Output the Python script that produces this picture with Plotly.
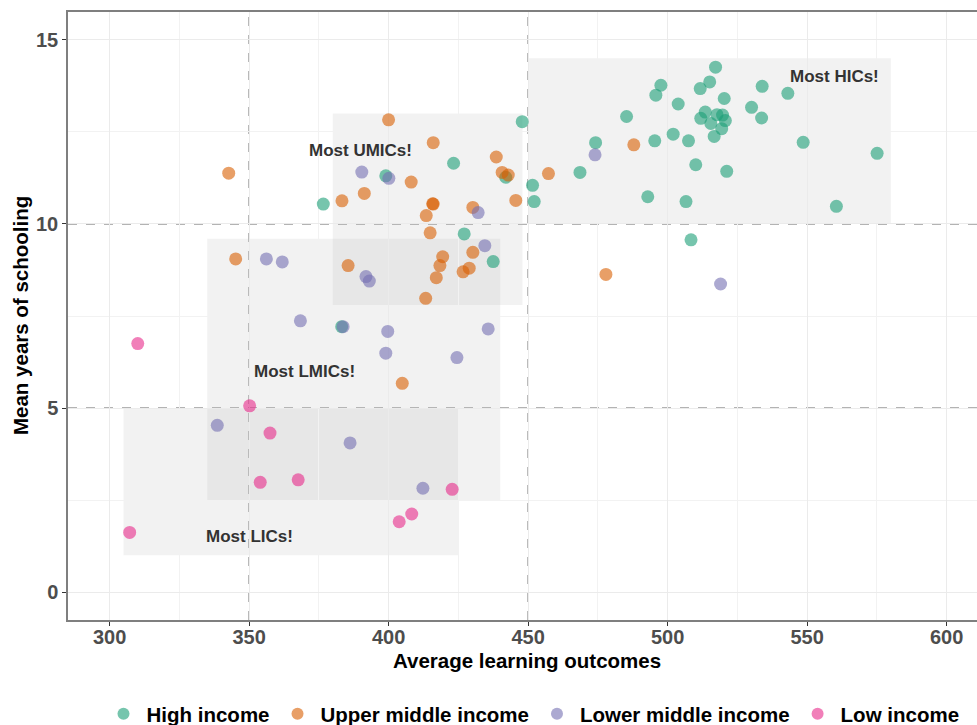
import plotly.graph_objects as go

# ---- data ----
high_x = [376.6, 447.9, 423.3, 442.0, 451.6, 452.2, 474.2, 468.6, 427.1, 437.5, 383.2, 399.0,
          485.3, 517.2, 515.1, 511.7, 497.6, 495.8, 503.8, 520.3, 533.9, 543.1, 530.1, 533.7,
          513.5, 511.9, 517.7, 519.7, 515.5, 520.7, 519.4, 516.7, 502.0, 495.4, 507.5, 548.6,
          575.1, 510.1, 521.2, 492.9, 506.6, 560.5, 508.4]
high_y = [10.54, 12.78, 11.65, 11.27, 11.05, 10.61, 12.21, 11.40, 9.73, 8.98, 7.21, 11.31,
          12.92, 14.26, 13.86, 13.68, 13.77, 13.50, 13.26, 13.41, 13.74, 13.55, 13.17, 12.88,
          13.04, 12.87, 12.97, 12.96, 12.73, 12.81, 12.59, 12.38, 12.44, 12.26, 12.26, 12.22,
          11.92, 11.61, 11.43, 10.74, 10.61, 10.48, 9.57]

umic_x = [400.0, 416.0, 438.6, 440.7, 442.9, 457.3, 408.1, 391.3, 383.3, 416.0, 415.8, 430.2,
          445.6, 413.5, 414.9, 385.5, 419.4, 418.4, 417.1, 430.2, 428.9, 426.7, 413.3, 477.9,
          487.9, 342.7, 345.2, 404.9]
umic_y = [12.83, 12.21, 11.82, 11.40, 11.33, 11.37, 11.14, 10.83, 10.63, 10.54, 10.55, 10.45,
          10.64, 10.23, 9.76, 8.87, 9.11, 8.87, 8.54, 9.23, 8.80, 8.70, 7.98, 8.63,
          12.15, 11.38, 9.05, 5.67]

lmic_x = [390.4, 400.1, 432.1, 474.0, 519.0, 356.2, 361.9, 391.9, 393.1, 434.5, 368.4, 383.7,
          399.7, 399.0, 435.7, 424.5, 338.6, 386.2, 412.3]
lmic_y = [11.41, 11.24, 10.31, 11.88, 8.37, 9.05, 8.97, 8.57, 8.45, 9.41, 7.37, 7.21,
          7.08, 6.49, 7.15, 6.37, 4.53, 4.05, 2.82]

lic_x = [310.1, 307.2, 350.2, 357.5, 354.0, 367.6, 422.8, 408.3, 403.8]
lic_y = [6.75, 1.62, 5.06, 4.32, 2.98, 3.05, 2.79, 2.12, 1.91]

group_names = ["High income", "Upper middle income", "Lower middle income", "Low income"]
group_colors = ["#1B9E77", "#D95F02", "#7570B3", "#E7298A"]

# highlighted boxes: x0, x1, y0, y1
box_x0 = [450, 380, 335, 305]
box_x1 = [580, 448, 440, 425]
box_y0 = [10, 7.8, 2.5, 1]
box_y1 = [14.5, 13, 9.6, 5]
label_text = ["Most HICs!", "Most UMICs!", "Most LMICs!", "Most LICs!"]
label_x = [560, 390, 370, 350]
label_y = [14, 12, 6, 1.5]

x_ticks = [300, 350, 400, 450, 500, 550, 600]
y_ticks = [0, 5, 10, 15]
vlines = [350, 450]
hlines = [5, 10]

x_title = "Average learning outcomes"
y_title = "Mean years of schooling"

FONT = "Liberation Sans, Arial, sans-serif"

fig = go.Figure()
series = [(high_x, high_y), (umic_x, umic_y), (lmic_x, lmic_y), (lic_x, lic_y)]
for (xs, ys), name, col in zip(series, group_names, group_colors):
    fig.add_trace(go.Scatter(
        x=xs, y=ys, mode="markers", name=name,
        marker=dict(size=13, color=col, opacity=0.6, line=dict(width=0)),
    ))

shapes = []
for x0, x1, y0, y1 in zip(box_x0, box_x1, box_y0, box_y1):
    shapes.append(dict(type="rect", xref="x", yref="y", x0=x0, x1=x1, y0=y0, y1=y1,
                       fillcolor="rgba(190,190,190,0.2)", line=dict(width=0), layer="below"))
for v in vlines:
    shapes.append(dict(type="line", xref="x", yref="paper", x0=v, x1=v, y0=0, y1=1,
                       line=dict(color="#9a9a9a", width=1.5, dash="dash"), layer="below"))
for h in hlines:
    shapes.append(dict(type="line", xref="paper", yref="y", x0=0, x1=1, y0=h, y1=h,
                       line=dict(color="#9a9a9a", width=1.5, dash="dash"), layer="below"))

annotations = []
for t, ax, ay in zip(label_text, label_x, label_y):
    annotations.append(dict(x=ax, y=ay, xref="x", yref="y", text=t, showarrow=False,
                            font=dict(family=FONT, size=17, color="#333333", weight="bold")))
annotations.append(dict(x=0.5055, y=-0.066, xref="paper", yref="paper", text=x_title,
                        showarrow=False, xanchor="center", yanchor="middle",
                        font=dict(family=FONT, size=20.5, color="#000000", weight="bold")))
annotations.append(dict(x=-0.0528, y=0.5, xref="paper", yref="paper", text=y_title,
                        showarrow=False, xanchor="center", yanchor="middle", textangle=-90,
                        font=dict(family=FONT, size=20.5, color="#000000", weight="bold")))

fig.update_layout(
    width=977, height=725,
    paper_bgcolor="white", plot_bgcolor="white",
    margin=dict(l=68, r=0, t=12, b=105, autoexpand=False),
    shapes=shapes, annotations=annotations,
    font=dict(family=FONT),
    showlegend=True,
    legend=dict(orientation="h", x=0.511, xanchor="center", y=-0.1546, yanchor="middle",
                font=dict(family=FONT, size=20.5, color="#000000", weight="bold"),
                itemsizing="constant", itemwidth=36, tracegroupgap=0),
)
fig.update_xaxes(
    range=[285.1, 610.9], tickvals=x_ticks, ticks="outside", ticklen=4, tickwidth=1.2,
    tickcolor="#333333", showgrid=True, gridcolor="#ebebeb", gridwidth=1.2,
    minor=dict(dtick=25, tick0=0, showgrid=True, gridcolor="#f2f2f2", gridwidth=0.8),
    zeroline=False, showline=True, linecolor="#7f7f7f", linewidth=1.5, mirror=True,
    automargin=False, ticklabelstandoff=-6,
    tickfont=dict(family=FONT, size=20, color="#4d4d4d", weight="bold"),
)
fig.update_yaxes(
    range=[-0.76, 15.76], tickvals=y_ticks, ticks="outside", ticklen=4, tickwidth=1.2,
    tickcolor="#333333", showgrid=True, gridcolor="#ebebeb", gridwidth=1.2,
    minor=dict(dtick=2.5, tick0=0, showgrid=True, gridcolor="#f2f2f2", gridwidth=0.8),
    zeroline=False, showline=True, linecolor="#7f7f7f", linewidth=1.5, mirror=False,
    automargin=False,
    tickfont=dict(family=FONT, size=20, color="#4d4d4d", weight="bold"),
)

fig.write_html("out.html", config={"displayModeBar": False},
               post_script="document.body.style.margin='0';")
